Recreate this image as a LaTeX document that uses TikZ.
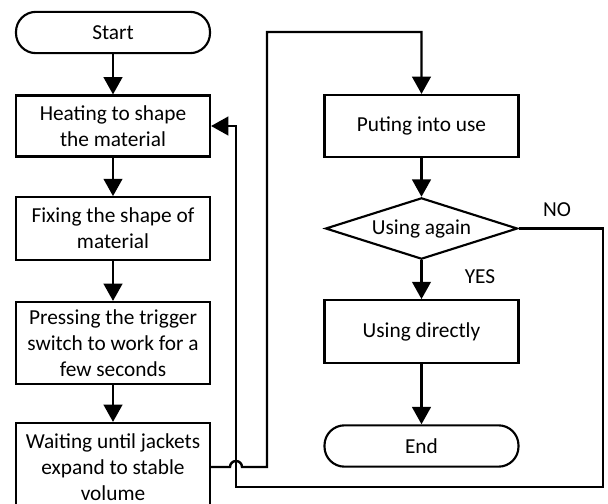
\documentclass[tikz,border=0pt]{standalone}
\usepackage{fontspec}
\setmainfont{Carlito}
\usetikzlibrary{shapes.geometric, arrows.meta}
\tikzset{box/.style={draw,line width=1.6pt,fill=white,minimum width=145.5pt,inner sep=2pt,align=center,font=\fontsize{16}{19.5}\selectfont},
         term/.style={box,rounded corners=15pt,minimum height=31pt},
         choice/.style={diamond,draw,line width=1.6pt,fill=white,aspect=3,inner sep=0pt,minimum width=144pt,minimum height=46pt,font=\fontsize{16}{19}\selectfont},
         tag/.style={font=\fontsize{16}{19}\selectfont},
         flow/.style={line width=1.8pt,-{Triangle[width=14pt,length=13pt]}},
        }
\begin{document}
\begin{tikzpicture}[x=0.75pt,y=-0.75pt]
        \useasboundingbox (0,0) rectangle (608,504);

        \node[term](start)at(113,32.5){Start};
        \node[box,minimum height=45.75pt](heat)at(113,126){Heating to shape\\the material};
        \node[box,minimum height=47pt](fix)at(113,228.5){Fixing the shape of\\material};
        \node[box,minimum height=61.5pt](press)at(113,343){Pressing the trigger\\switch to work for a\\few seconds};
        \node[box,minimum height=66pt](wait)at(113,467){Waiting until jackets\\expand to stable\\volume};

        \node[box,minimum height=46.5pt](use)at(421.5,126){Puting into use};
        \node[choice](again)at(421.5,228.5){Using again};
        \node[box,minimum height=47pt](direct)at(421.5,331.5){Using directly};
        \node[term](end)at(421.5,446){End};
        \node[tag](no)at(557,210){NO};
        \node[tag](yes)at(480,277){YES};

        \draw[flow](start)--(heat);
        \draw[flow](heat)--(fix);
        \draw[flow](fix)--(press);
        \draw[flow](press)--(wait);

        \draw[flow](wait.east)--(230,467) arc(180:360:6)--(242,467)-|(267,32)-|(use.north);

        \draw[flow](use)--(again);
        \draw[flow](again)--(direct);
        \draw[flow](direct)--(end);

        \draw[flow](again.east)--(603,228.5)--(603,487)--(236,487)|-(heat.east);
    \end{tikzpicture}
\end{document}
